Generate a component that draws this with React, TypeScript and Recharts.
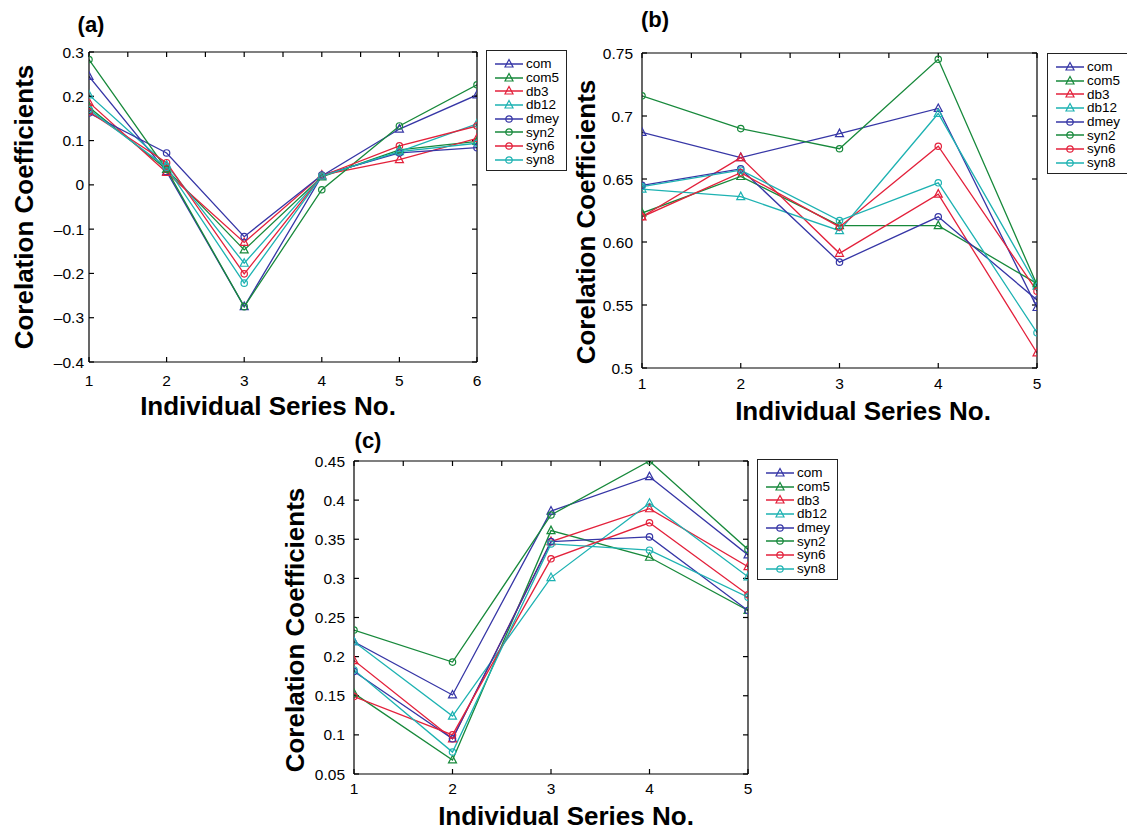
import { LineChart, Line, XAxis, YAxis } from "recharts";

const FONT = '"Liberation Sans", Arial, Helvetica, sans-serif';

const seriesNames = ["com", "com5", "db3", "db12", "dmey", "syn2", "syn6", "syn8"];
const seriesColors = ["#3636a6", "#17893b", "#e3213b", "#1db2b2", "#3636a6", "#17893b", "#e3213b", "#1db2b2"];
const seriesMarkers = ["tri", "tri", "tri", "tri", "circ", "circ", "circ", "circ"];

// panel (a)
const xA = [1, 2, 3, 4, 5, 6];
const comA = [0.245, 0.03, -0.275, 0.02, 0.126, 0.203];
const com5A = [0.175, 0.035, -0.147, 0.018, 0.079, 0.098];
const db3A = [0.186, 0.028, -0.13, 0.022, 0.057, 0.105];
const db12A = [0.203, 0.045, -0.177, 0.02, 0.075, 0.138];
const dmeyA = [0.162, 0.072, -0.117, 0.022, 0.072, 0.084];
const syn2A = [0.283, 0.035, -0.275, -0.011, 0.133, 0.226];
const syn6A = [0.165, 0.05, -0.201, 0.02, 0.088, 0.133];
const syn8A = [0.17, 0.04, -0.222, 0.02, 0.075, 0.094];
const yTicksA = [-0.4, -0.3, -0.2, -0.1, 0, 0.1, 0.2, 0.3];
const yLabelsA = ["–0.4", "–0.3", "–0.2", "–0.1", "0", "0.1", "0.2", "0.3"];
const topTicksA = [1, 1.5, 2, 2.5, 3, 3.5, 4, 4.5, 5, 5.5, 6];

// panel (b)
const xB = [1, 2, 3, 4, 5];
const comB = [0.687, 0.667, 0.686, 0.706, 0.548];
const com5B = [0.623, 0.652, 0.613, 0.613, 0.567];
const db3B = [0.62, 0.667, 0.591, 0.638, 0.512];
const db12B = [0.642, 0.636, 0.609, 0.702, 0.565];
const dmeyB = [0.645, 0.658, 0.584, 0.62, 0.554];
const syn2B = [0.716, 0.69, 0.674, 0.745, 0.566];
const syn6B = [0.62, 0.655, 0.612, 0.676, 0.561];
const syn8B = [0.644, 0.657, 0.617, 0.647, 0.528];
const yTicksB = [0.5, 0.55, 0.6, 0.65, 0.7, 0.75];
const yLabelsB = ["0.5", "0.55", "0.60", "0.65", "0.7", "0.75"];
const topTicksB = [1, 1.5, 2, 2.5, 3, 3.5, 4, 4.5, 5];

// panel (c)
const xC = [1, 2, 3, 4, 5];
const comC = [0.219, 0.151, 0.386, 0.43, 0.33];
const com5C = [0.153, 0.068, 0.361, 0.327, 0.259];
const db3C = [0.195, 0.095, 0.347, 0.389, 0.315];
const db12C = [0.219, 0.124, 0.301, 0.396, 0.302];
const dmeyC = [0.181, 0.095, 0.347, 0.353, 0.259];
const syn2C = [0.234, 0.193, 0.381, 0.45, 0.337];
const syn6C = [0.149, 0.1, 0.325, 0.371, 0.279];
const syn8C = [0.183, 0.078, 0.344, 0.336, 0.276];
const yTicksC = [0.05, 0.1, 0.15, 0.2, 0.25, 0.3, 0.35, 0.4, 0.45];
const yLabelsC = ["0.05", "0.1", "0.15", "0.2", "0.25", "0.3", "0.35", "0.4", "0.45"];
const topTicksC = [1, 1.5, 2, 2.5, 3, 3.5, 4, 4.5, 5];

const yTitle = "Corelation Coefficients";
const xTitle = "Individual Series No.";

const panels = [
  {
    letter: "(a)", x: xA, values: [comA, com5A, db3A, db12A, dmeyA, syn2A, syn6A, syn8A],
    yTicks: yTicksA, yLabels: yLabelsA, topTicks: topTicksA,
    left: 0, top: 0, width: 495, height: 420, mt: 51, mr: 17, yw: 89, xh: 58, ytm: 10, xtm: 18,
    yTitlePos: [24, 207], xTitlePos: [268, 406], letterPos: [91, 25],
    legend: { left: 486, top: 50, width: 81 },
  },
  {
    letter: "(b)", x: xB, values: [comB, com5B, db3B, db12B, dmeyB, syn2B, syn6B, syn8B],
    yTicks: yTicksB, yLabels: yLabelsB, topTicks: topTicksB,
    left: 560, top: 0, width: 495, height: 430, mt: 52, mr: 17, yw: 82, xh: 62, ytm: 14, xtm: 15,
    yTitlePos: [26, 222], xTitlePos: [303, 411], letterPos: [95, 20],
    legend: { left: 487, top: 53, width: 92 },
  },
  {
    letter: "(c)", x: xC, values: [comC, com5C, db3C, db12C, dmeyC, syn2C, syn6C, syn8C],
    yTicks: yTicksC, yLabels: yLabelsC, topTicks: topTicksC,
    left: 270, top: 425, width: 495, height: 406, mt: 35, mr: 16, yw: 84, xh: 57, ytm: 14, xtm: 14,
    yTitlePos: [25, 205], xTitlePos: [296, 391], letterPos: [98, 16],
    legend: { left: 487, top: 34, width: 81 },
  },
];

function Marker(props: any) {
  const { cx, cy, stroke, shape } = props;
  if (cx == null || cy == null) return null;
  if (shape === "tri") {
    return (
      <polygon
        points={`${cx},${cy - 4.5} ${cx - 4},${cy + 3} ${cx + 4},${cy + 3}`}
        fill="none"
        stroke={stroke}
        strokeWidth={1.2}
      />
    );
  }
  return <circle cx={cx} cy={cy} r={3.2} fill="none" stroke={stroke} strokeWidth={1.2} />;
}

function Legend({ left, top, width }: { left: number; top: number; width: number }) {
  return (
    <div
      style={{
        position: "absolute",
        left,
        top,
        width,
        border: "1px solid #222",
        background: "#fff",
        padding: "6px 0 3px 0",
        boxSizing: "border-box",
      }}
    >
      {seriesNames.map((n, k) => (
        <div key={n} style={{ display: "flex", alignItems: "center", height: 13.7 }}>
          <svg width={38} height={12} style={{ flex: "none" }}>
            <line x1={8} y1={6} x2={36} y2={6} stroke={seriesColors[k]} strokeWidth={1.5} />
            <Marker cx={22} cy={6} stroke={seriesColors[k]} shape={seriesMarkers[k]} />
          </svg>
          <span style={{ fontFamily: FONT, fontSize: 13.5, lineHeight: "13px", color: "#000", marginLeft: 1 }}>{n}</span>
        </div>
      ))}
    </div>
  );
}

function Panel({ cfg }: { cfg: any }) {
  const data = cfg.x.map((x: number, i: number) => {
    const row: any = { x };
    seriesNames.forEach((n, k) => {
      row[n] = cfg.values[k][i];
    });
    return row;
  });
  const xDomain = [cfg.x[0], cfg.x[cfg.x.length - 1]];
  const yDomain = [cfg.yTicks[0], cfg.yTicks[cfg.yTicks.length - 1]];
  const tickStyle = { fill: "#000", fontSize: 15.5, fontFamily: FONT };
  const axisStroke = { stroke: "#000", strokeWidth: 1.2 };
  return (
    <div style={{ position: "absolute", left: cfg.left, top: cfg.top, width: cfg.width, height: cfg.height }}>
      <LineChart
        width={cfg.width}
        height={cfg.height}
        data={data}
        margin={{ top: cfg.mt, right: cfg.mr, left: 0, bottom: 0 }}
      >
        <XAxis
          xAxisId="b"
          dataKey="x"
          type="number"
          domain={xDomain}
          allowDataOverflow
          ticks={cfg.x}
          interval={0}
          height={cfg.xh}
          tickSize={-5}
          tickMargin={cfg.xtm}
          tick={tickStyle}
          axisLine={axisStroke}
          tickLine={axisStroke}
        />
        <XAxis
          xAxisId="t"
          orientation="top"
          dataKey="x"
          type="number"
          domain={xDomain}
          allowDataOverflow
          ticks={cfg.topTicks}
          interval={0}
          height={1}
          tickSize={-5}
          tickFormatter={() => ""}
          axisLine={axisStroke}
          tickLine={axisStroke}
        />
        <YAxis
          yAxisId="l"
          type="number"
          domain={yDomain}
          allowDataOverflow
          ticks={cfg.yTicks}
          interval={0}
          width={cfg.yw}
          tickSize={-5}
          tickMargin={cfg.ytm}
          tickFormatter={(v: number) => cfg.yLabels[cfg.yTicks.indexOf(v)]}
          tick={tickStyle}
          axisLine={axisStroke}
          tickLine={axisStroke}
        />
        <YAxis
          yAxisId="r"
          orientation="right"
          type="number"
          domain={yDomain}
          allowDataOverflow
          ticks={cfg.yTicks}
          interval={0}
          width={1}
          tickSize={-5}
          tickFormatter={() => ""}
          axisLine={axisStroke}
          tickLine={axisStroke}
        />
        {/* invisible series so the top and right frame axes get drawn */}
        <Line
          xAxisId="t"
          yAxisId="r"
          dataKey={seriesNames[0]}
          stroke="none"
          dot={false}
          activeDot={false}
          legendType="none"
          isAnimationActive={false}
        />
        {seriesNames.map((n, k) => (
          <Line
            key={n}
            xAxisId="b"
            yAxisId="l"
            dataKey={n}
            type="linear"
            stroke={seriesColors[k]}
            strokeWidth={1.3}
            isAnimationActive={false}
            dot={(p: any) => (
              <Marker key={`${n}-${p.index}`} cx={p.cx} cy={p.cy} stroke={seriesColors[k]} shape={seriesMarkers[k]} />
            )}
          />
        ))}
      </LineChart>
      <div
        style={{
          position: "absolute",
          left: cfg.yTitlePos[0],
          top: cfg.yTitlePos[1],
          transform: "translate(-50%, -50%) rotate(-90deg)",
          fontFamily: FONT,
          fontWeight: "bold",
          fontSize: 26,
          lineHeight: "26px",
          whiteSpace: "nowrap",
          color: "#000",
        }}
      >
        {yTitle}
      </div>
      <div
        style={{
          position: "absolute",
          left: cfg.xTitlePos[0],
          top: cfg.xTitlePos[1],
          transform: "translate(-50%, -50%)",
          fontFamily: FONT,
          fontWeight: "bold",
          fontSize: 26,
          lineHeight: "26px",
          whiteSpace: "nowrap",
          color: "#000",
        }}
      >
        {xTitle}
      </div>
      <div
        style={{
          position: "absolute",
          left: cfg.letterPos[0],
          top: cfg.letterPos[1],
          transform: "translate(-50%, -50%)",
          fontFamily: FONT,
          fontWeight: "bold",
          fontSize: 22,
          lineHeight: "22px",
          whiteSpace: "nowrap",
          color: "#000",
        }}
      >
        {cfg.letter}
      </div>
      <Legend {...cfg.legend} />
    </div>
  );
}

export default function App() {
  return (
    <div
      style={{
        position: "absolute",
        left: 0,
        top: 0,
        width: 1127,
        height: 831,
        overflow: "hidden",
        background: "#fff",
      }}
    >
      {panels.map((p) => (
        <Panel key={p.letter} cfg={p} />
      ))}
    </div>
  );
}
